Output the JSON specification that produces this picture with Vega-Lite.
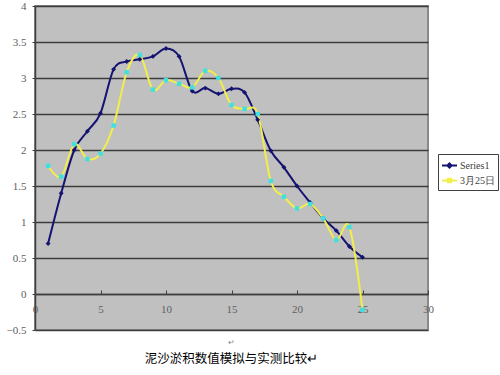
{
  "$schema": "https://vega.github.io/schema/vega-lite/v6.json",
  "width": 393,
  "height": 324,
  "autosize": {"type": "none"},
  "padding": {"left": 35, "top": 6, "right": 72, "bottom": 45},
  "background": "white",
  "config": {
    "view": {"fill": "#C0C0C0", "stroke": "#8a8a8a", "strokeWidth": 2},
    "axis": {"labelFont": "Liberation Serif", "labelColor": "#606060", "labelFontSize": 11}
  },
  "title": {
    "text": "↵",
    "orient": "bottom",
    "anchor": "middle",
    "fontSize": 8,
    "color": "#888888",
    "fontWeight": "normal",
    "offset": 4,
    "subtitle": "泥沙淤积数值模拟与实测比较↵",
    "subtitleFont": "Noto Sans CJK SC",
    "subtitleFontSize": 12.5,
    "subtitleColor": "#000000",
    "subtitlePadding": 6
  },
  "data": {
    "values": [
      {"x": 1, "y": 0.7, "series": "Series1"},
      {"x": 2, "y": 1.4, "series": "Series1"},
      {"x": 3, "y": 2.0, "series": "Series1"},
      {"x": 4, "y": 2.26, "series": "Series1"},
      {"x": 5, "y": 2.51, "series": "Series1"},
      {"x": 6, "y": 3.12, "series": "Series1"},
      {"x": 7, "y": 3.23, "series": "Series1"},
      {"x": 8, "y": 3.26, "series": "Series1"},
      {"x": 9, "y": 3.3, "series": "Series1"},
      {"x": 10, "y": 3.41, "series": "Series1"},
      {"x": 11, "y": 3.3, "series": "Series1"},
      {"x": 12, "y": 2.82, "series": "Series1"},
      {"x": 13, "y": 2.86, "series": "Series1"},
      {"x": 14, "y": 2.78, "series": "Series1"},
      {"x": 15, "y": 2.85, "series": "Series1"},
      {"x": 16, "y": 2.8, "series": "Series1"},
      {"x": 17, "y": 2.42, "series": "Series1"},
      {"x": 18, "y": 1.99, "series": "Series1"},
      {"x": 19, "y": 1.76, "series": "Series1"},
      {"x": 20, "y": 1.5, "series": "Series1"},
      {"x": 21, "y": 1.27, "series": "Series1"},
      {"x": 22, "y": 1.05, "series": "Series1"},
      {"x": 23, "y": 0.88, "series": "Series1"},
      {"x": 24, "y": 0.66, "series": "Series1"},
      {"x": 25, "y": 0.51, "series": "Series1"},
      {"x": 1, "y": 1.78, "series": "3月25日"},
      {"x": 2, "y": 1.63, "series": "3月25日"},
      {"x": 3, "y": 2.08, "series": "3月25日"},
      {"x": 4, "y": 1.875, "series": "3月25日"},
      {"x": 5, "y": 1.95, "series": "3月25日"},
      {"x": 6, "y": 2.34, "series": "3月25日"},
      {"x": 7, "y": 3.08, "series": "3月25日"},
      {"x": 8, "y": 3.32, "series": "3月25日"},
      {"x": 9, "y": 2.84, "series": "3月25日"},
      {"x": 10, "y": 2.97, "series": "3月25日"},
      {"x": 11, "y": 2.92, "series": "3月25日"},
      {"x": 12, "y": 2.87, "series": "3月25日"},
      {"x": 13, "y": 3.1, "series": "3月25日"},
      {"x": 14, "y": 3.0, "series": "3月25日"},
      {"x": 15, "y": 2.625, "series": "3月25日"},
      {"x": 16, "y": 2.57, "series": "3月25日"},
      {"x": 17, "y": 2.5, "series": "3月25日"},
      {"x": 18, "y": 1.57, "series": "3月25日"},
      {"x": 19, "y": 1.35, "series": "3月25日"},
      {"x": 20, "y": 1.19, "series": "3月25日"},
      {"x": 21, "y": 1.25, "series": "3月25日"},
      {"x": 22, "y": 1.05, "series": "3月25日"},
      {"x": 23, "y": 0.75, "series": "3月25日"},
      {"x": 24, "y": 0.93, "series": "3月25日"},
      {"x": 25, "y": -0.22, "series": "3月25日"}
    ]
  },
  "encoding": {
    "x": {
      "field": "x",
      "type": "quantitative",
      "scale": {"domain": [0, 30], "nice": false, "zero": false},
      "axis": {
        "title": null,
        "values": [0, 5, 10, 15, 20, 25, 30],
        "grid": false,
        "offset": -36,
        "domainColor": "#404040",
        "domainWidth": 1.5,
        "tickColor": "#404040",
        "tickSize": -4,
        "labelPadding": 13,
        "labelFlush": false
      }
    },
    "y": {
      "field": "y",
      "type": "quantitative",
      "scale": {"domain": [-0.5, 4], "nice": false, "zero": false},
      "axis": {
        "title": null,
        "values": [-0.5, 0, 0.5, 1, 1.5, 2, 2.5, 3, 3.5, 4],
        "format": "~g",
        "grid": true,
        "gridColor": "#3c3c3c",
        "gridWidth": 1.3,
        "gridOpacity": 1,
        "domainColor": "#404040",
        "domainWidth": 1.5,
        "tickColor": "#404040",
        "tickSize": 3,
        "labelPadding": 6
      }
    }
  },
  "layer": [
    {
      "mark": {"type": "line", "interpolate": "cardinal", "strokeWidth": 2},
      "encoding": {
        "color": {
          "field": "series",
          "type": "nominal",
          "sort": ["Series1", "3月25日"],
          "scale": {"domain": ["Series1", "3月25日"], "range": ["#141470", "#F2EE4A"]},
          "legend": {
            "title": null,
            "orient": "none",
            "legendX": 403,
            "legendY": 148,
            "padding": 3,
            "strokeColor": "#404040",
            "fillColor": "white",
            "labelFont": "Liberation Serif",
            "labelFontSize": 10,
            "labelColor": "#404040",
            "symbolSize": 225,
            "symbolStrokeWidth": 2,
            "rowPadding": 0,
            "labelOffset": 2,
            "encode": {
              "symbols": {
                "update": {
                  "shape": {"signal": "datum.value === 'Series1' ? 'M-1,0H1M0,-0.28L0.28,0L0,0.28L-0.28,0Z' : 'M-1,0H1M-0.22,-0.22H0.22V0.22H-0.22Z'"},
                  "fill": {"signal": "datum.value === 'Series1' ? '#141470' : '#40E0E0'"},
                  "fillOpacity": {"value": 1}
                }
              }
            }
          }
        }
      }
    },
    {
      "transform": [{"filter": "datum.series === 'Series1'"}],
      "mark": {"type": "point", "filled": true, "opacity": 1, "shape": "diamond", "color": "#141470", "size": 24}
    },
    {
      "transform": [{"filter": "datum.series === '3月25日'"}],
      "mark": {"type": "point", "filled": true, "opacity": 1, "shape": "square", "color": "#40E0E0", "size": 20}
    }
  ]
}
